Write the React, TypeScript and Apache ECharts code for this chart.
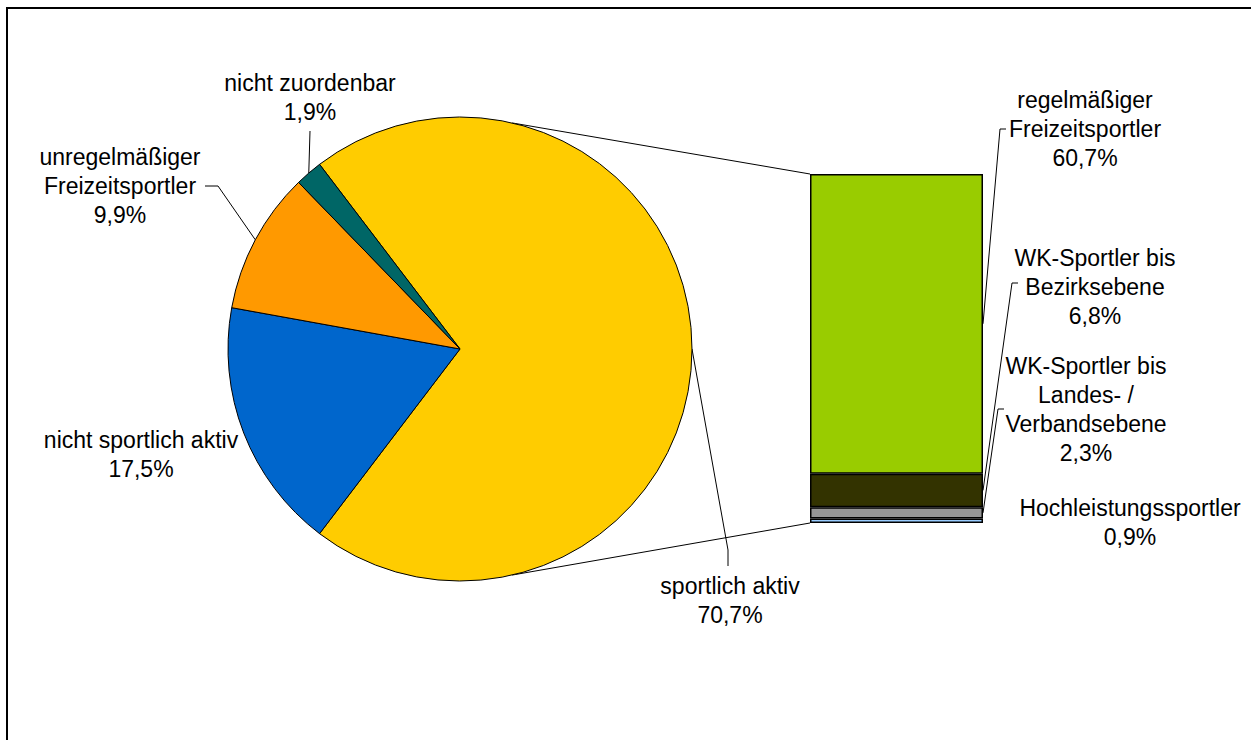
import React, { useEffect, useRef } from "react";
import * as echarts from "echarts";

// ---- data ----
const pieNames = [
  "sportlich aktiv",
  "nicht sportlich aktiv",
  "unregelmäßiger\nFreizeitsportler",
  "nicht zuordenbar",
];
const pieValues = [70.7, 17.5, 9.9, 1.9];
const pieColors = ["#FFCC00", "#0066CC", "#FF9900", "#006666"];

const barNames = [
  "Hochleistungssportler",
  "WK-Sportler bis\nLandes- /\nVerbandsebene",
  "WK-Sportler bis\nBezirksebene",
  "regelmäßiger\nFreizeitsportler",
];
const barValues = [0.9, 2.3, 6.8, 60.7];
const barColors = ["#99CCFF", "#969696", "#333300", "#99CC00"];

// ---- layout ----
const CX = 460;
const CY = 349;
const R = 232;
const GRID_LEFT = 810;
const GRID_TOP = 174;
const GRID_W = 173;
const GRID_H = 349;
const CONNECT_ANGLE = 77;
const FONT = "'Liberation Sans', Arial, sans-serif";
const FONT_SIZE = 23;
const LINE_H = 29;

const pieLabelPos: { x: number; y: number; line: number[][] | null }[] = [
  { x: 730, y: 600, line: [[728, 550], [728, 566]] },
  { x: 141, y: 454, line: null },
  { x: 120, y: 186, line: [[218, 186], [205, 186]] },
  { x: 310, y: 97, line: [[310, 131], [310, 131]] },
];
const barLabelPos: { x: number; y: number; line: number[][] | null }[] = [
  { x: 1130, y: 522, line: null },
  { x: 1086, y: 409, line: [[998, 409], [1004, 409]] },
  { x: 1095, y: 287, line: [[1012, 283], [1018, 283]] },
  { x: 1085, y: 129, line: [[1000, 129], [1006, 129]] },
];

const fmt = (v: number) => v.toFixed(1).replace(".", ",") + "%";

export default function App() {
  const ref = useRef<HTMLDivElement>(null);
  useEffect(() => {
    const chart = echarts.init(ref.current!, null, { renderer: "svg" });
    const total = pieValues.reduce((a, b) => a + b, 0);
    const startAngle = (pieValues[0] / total) * 180;
    let cum = 0;
    const mids = pieValues.map((v) => {
      const a = startAngle - ((cum + v / 2) / total) * 360;
      cum += v;
      return (a * Math.PI) / 180;
    });
    const edge = (a: number) => [CX + R * Math.cos(a), CY - R * Math.sin(a)];
    const barTotal = barValues.reduce((a, b) => a + b, 0);

    const textStyle = {
      color: "#000",
      fontFamily: FONT,
      fontSize: FONT_SIZE,
      lineHeight: LINE_H,
      textBorderWidth: 0,
    };

    chart.setOption({
      animation: false,
      backgroundColor: "#fff",
      grid: { left: GRID_LEFT, top: GRID_TOP, width: GRID_W, height: GRID_H },
      xAxis: { type: "category", data: ["x"], show: false },
      yAxis: { type: "value", min: 0, max: barTotal, show: false },
      series: [
        {
          type: "pie",
          silent: true,
          center: [CX, CY],
          radius: R,
          startAngle,
          clockwise: true,
          avoidLabelOverlap: false,
          itemStyle: { borderColor: "#000", borderWidth: 1 },
          label: {
            show: true,
            position: "outside",
            ...textStyle,
            formatter: (p: any) => p.name + "\n" + fmt(p.value),
          },
          labelLine: { show: true, lineStyle: { color: "#000", width: 1 } },
          labelLayout: (p: any) => {
            const pos = pieLabelPos[p.dataIndex];
            const res: any = { x: pos.x, y: pos.y, align: "center", verticalAlign: "middle" };
            if (pos.line) res.labelLinePoints = [edge(mids[p.dataIndex]), ...pos.line];
            return res;
          },
          data: pieNames.map((n, i) => ({
            name: n,
            value: pieValues[i],
            itemStyle: { color: pieColors[i] },
            labelLine: { show: pieLabelPos[i].line !== null },
          })),
        },
        ...barNames.map((n, i) => ({
          type: "bar",
          name: n,
          stack: "s",
          silent: true,
          barWidth: "100%",
          itemStyle: { color: barColors[i], borderColor: "#000", borderWidth: 1.5 },
          label: {
            show: true,
            position: "right",
            ...textStyle,
            formatter: () => n + "\n" + fmt(barValues[i]),
          },
          labelLayout: () => ({
            x: barLabelPos[i].x,
            y: barLabelPos[i].y,
            align: "center",
            verticalAlign: "middle",
          }),
          data: [barValues[i]],
        })),
      ],
    });

    // leader lines for bar and connector lines
    const graphics: any[] = [
      {
        type: "rect",
        z: -1,
        shape: { x: 7, y: 8, width: 1300, height: 800 },
        style: { fill: "none", stroke: "#000", lineWidth: 2 },
      },
    ];
    let c = 0;
    barValues.forEach((v, i) => {
      const mid = c + v / 2;
      c += v;
      const pos = barLabelPos[i];
      if (!pos.line) return;
      const py = (chart.convertToPixel({ gridIndex: 0 }, [0, mid]) as number[])[1];
      graphics.push({
        type: "polyline",
        silent: true,
        shape: { points: [[GRID_LEFT + GRID_W, py], ...pos.line] },
        style: { stroke: "#000", lineWidth: 1, fill: "none" },
      });
    });
    const yTop = (chart.convertToPixel({ gridIndex: 0 }, [0, barTotal]) as number[])[1];
    const yBot = (chart.convertToPixel({ gridIndex: 0 }, [0, 0]) as number[])[1];
    const aUp = (CONNECT_ANGLE * Math.PI) / 180;
    const pUp = edge(aUp);
    const pDn = edge(-aUp);
    graphics.push(
      {
        type: "line",
        silent: true,
        shape: { x1: pUp[0], y1: pUp[1], x2: GRID_LEFT, y2: yTop },
        style: { stroke: "#000", lineWidth: 1 },
      },
      {
        type: "line",
        silent: true,
        shape: { x1: pDn[0], y1: pDn[1], x2: GRID_LEFT, y2: yBot },
        style: { stroke: "#000", lineWidth: 1 },
      }
    );
    chart.setOption({ graphic: graphics });

    return () => chart.dispose();
  }, []);
  return (
    <div
      ref={ref}
      style={{ position: "absolute", left: 0, top: 0, width: 1251, height: 740 }}
    />
  );
}
